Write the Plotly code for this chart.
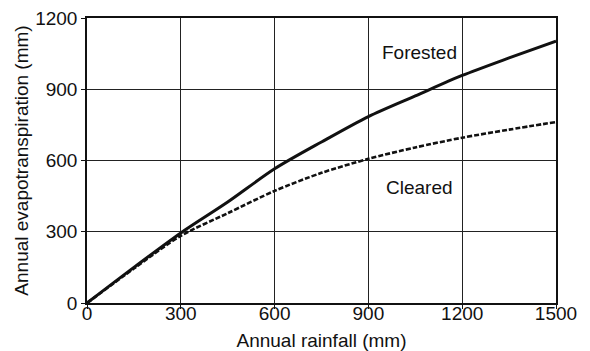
import plotly.graph_objects as go

rainfall = [0, 150, 300, 450, 600, 750, 900, 1050, 1200, 1350, 1500]
forested = [0, 150, 295, 425, 565, 678, 785, 872, 958, 1032, 1103]
cleared = [0, 145, 283, 378, 472, 548, 607, 655, 696, 730, 762]

x_ticks = [0, 300, 600, 900, 1200, 1500]
y_ticks = [0, 300, 600, 900, 1200]

FONT = "Liberation Sans, Arial, sans-serif"

fig = go.Figure()
fig.add_trace(go.Scatter(x=rainfall, y=forested, mode="lines", name="Forested",
                         line=dict(color="#111", width=3, shape="spline", smoothing=0.8)))
fig.add_trace(go.Scatter(x=rainfall, y=cleared, mode="lines", name="Cleared",
                         line=dict(color="#111", width=2.6, dash="5px,2px", shape="spline", smoothing=0.8)))

fig.add_annotation(x=1065, y=1053, text="Forested", showarrow=False,
                   font=dict(size=19, color="#111", family=FONT))
fig.add_annotation(x=1065, y=488, text="Cleared", showarrow=False,
                   font=dict(size=19, color="#111", family=FONT))

axis_common = dict(showgrid=True, gridcolor="#222", gridwidth=1, zeroline=False,
                   showline=True, linecolor="#111", linewidth=1.5, mirror=True,
                   ticks="outside", ticklen=4, tickcolor="#111", automargin=False,
                   ticklabeloverflow="allow",
                   tickfont=dict(size=19, color="#111", family=FONT))

fig.update_xaxes(range=[0, 1500], tickvals=x_ticks, ticktext=[str(v) for v in x_ticks],
                 title=dict(text="Annual rainfall (mm)", standoff=14,
                            font=dict(size=19, color="#111", family=FONT)),
                 ticklabelstandoff=-12,
                 **axis_common)
fig.update_yaxes(range=[0, 1200], tickvals=y_ticks, ticktext=[str(v) for v in y_ticks],
                 title=dict(text="Annual evapotranspiration (mm)", standoff=2,
                            font=dict(size=19, color="#111", family=FONT)),
                 **axis_common)

# page body has an 8px margin, so the figure is shrunk by that amount
fig.update_layout(width=582, height=343, showlegend=False,
                  margin=dict(l=79, r=34, t=10, b=48),
                  plot_bgcolor="white", paper_bgcolor="white")

fig.write_html("out.html")
